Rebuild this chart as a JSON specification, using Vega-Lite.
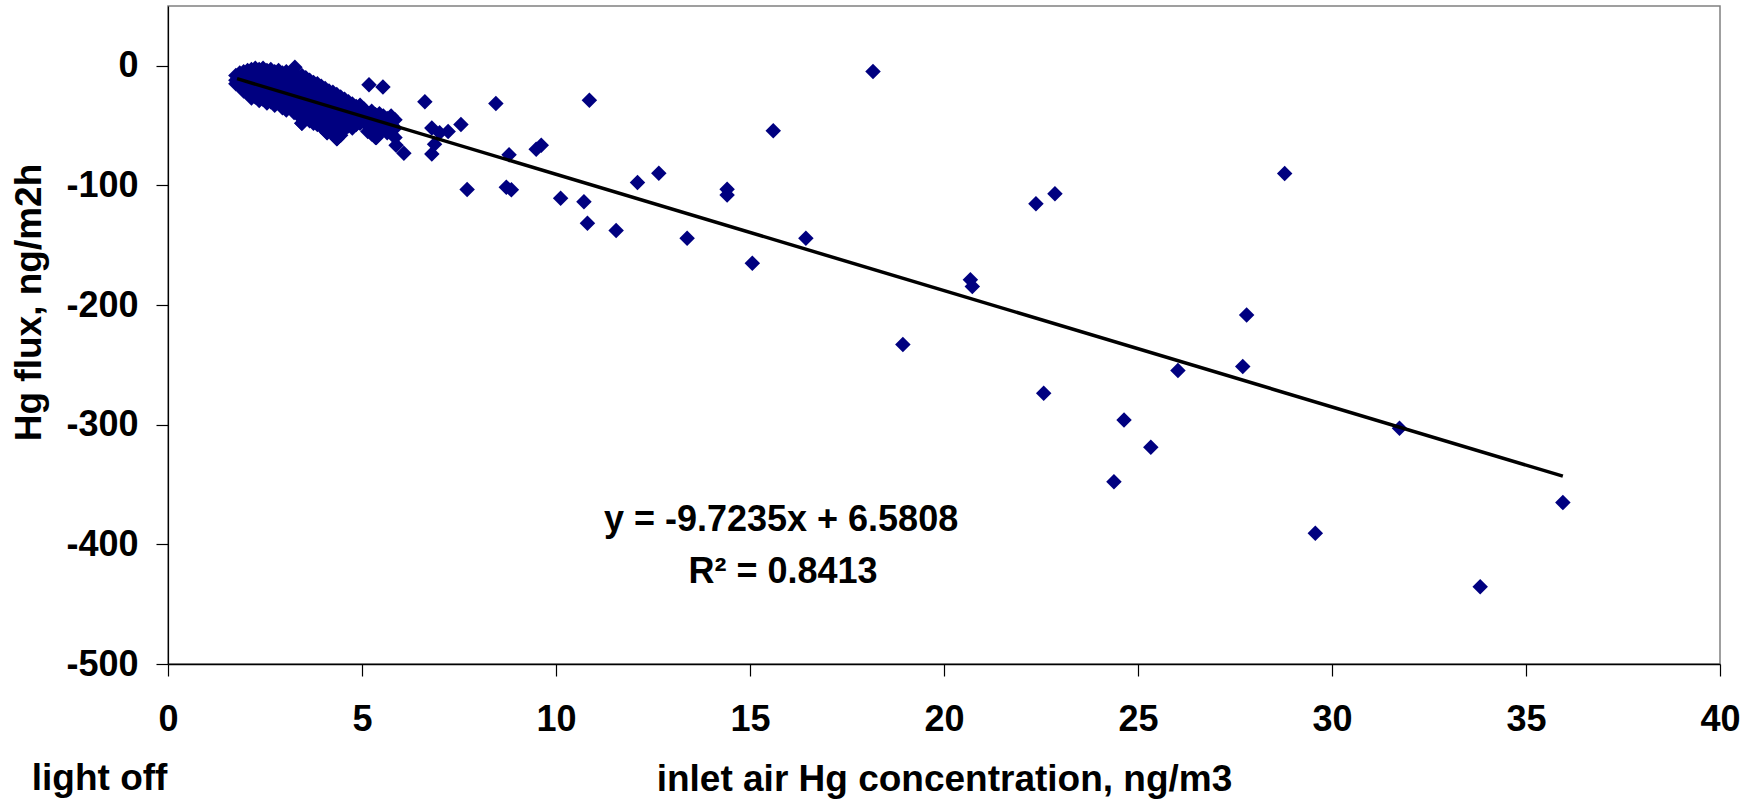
{
  "$schema": "https://vega.github.io/schema/vega-lite/v6.json",
  "width": 1552,
  "height": 658,
  "autosize": {"type": "none"},
  "padding": {"left": 168, "top": 6, "right": 37, "bottom": 138},
  "background": "white",
  "config": {
    "view": {"stroke": "#808080", "strokeWidth": 1.5},
    "font": "Liberation Sans"
  },
  "datasets": {
    "pts": [
      {"conc": 1.75, "flux": -8}, {"conc": 1.75, "flux": -12}, {"conc": 1.75, "flux": -15},
      {"conc": 1.85, "flux": -6}, {"conc": 1.85, "flux": -10}, {"conc": 1.85, "flux": -14}, {"conc": 1.85, "flux": -17},
      {"conc": 1.95, "flux": -5}, {"conc": 1.95, "flux": -9}, {"conc": 1.95, "flux": -13}, {"conc": 1.95, "flux": -18}, {"conc": 1.95, "flux": -21},
      {"conc": 2.05, "flux": -4}, {"conc": 2.05, "flux": -8}, {"conc": 2.05, "flux": -12}, {"conc": 2.05, "flux": -16}, {"conc": 2.05, "flux": -20}, {"conc": 2.05, "flux": -23},
      {"conc": 2.15, "flux": -3}, {"conc": 2.15, "flux": -7}, {"conc": 2.15, "flux": -11}, {"conc": 2.15, "flux": -15}, {"conc": 2.15, "flux": -19}, {"conc": 2.15, "flux": -24}, {"conc": 2.15, "flux": -27},
      {"conc": 2.25, "flux": -2}, {"conc": 2.25, "flux": -6}, {"conc": 2.25, "flux": -10}, {"conc": 2.25, "flux": -14}, {"conc": 2.25, "flux": -18}, {"conc": 2.25, "flux": -22}, {"conc": 2.25, "flux": -26},
      {"conc": 2.35, "flux": -3}, {"conc": 2.35, "flux": -8}, {"conc": 2.35, "flux": -12}, {"conc": 2.35, "flux": -17}, {"conc": 2.35, "flux": -21}, {"conc": 2.35, "flux": -25}, {"conc": 2.35, "flux": -29},
      {"conc": 2.45, "flux": -2}, {"conc": 2.45, "flux": -6}, {"conc": 2.45, "flux": -11}, {"conc": 2.45, "flux": -15}, {"conc": 2.45, "flux": -20}, {"conc": 2.45, "flux": -24}, {"conc": 2.45, "flux": -28},
      {"conc": 2.55, "flux": -4}, {"conc": 2.55, "flux": -9}, {"conc": 2.55, "flux": -13}, {"conc": 2.55, "flux": -18}, {"conc": 2.55, "flux": -22}, {"conc": 2.55, "flux": -27}, {"conc": 2.55, "flux": -31},
      {"conc": 2.65, "flux": -3}, {"conc": 2.65, "flux": -7}, {"conc": 2.65, "flux": -12}, {"conc": 2.65, "flux": -16}, {"conc": 2.65, "flux": -21}, {"conc": 2.65, "flux": -26}, {"conc": 2.65, "flux": -30},
      {"conc": 2.75, "flux": -5}, {"conc": 2.75, "flux": -10}, {"conc": 2.75, "flux": -15}, {"conc": 2.75, "flux": -19}, {"conc": 2.75, "flux": -24}, {"conc": 2.75, "flux": -28}, {"conc": 2.75, "flux": -33},
      {"conc": 2.85, "flux": -4}, {"conc": 2.85, "flux": -9}, {"conc": 2.85, "flux": -13}, {"conc": 2.85, "flux": -18}, {"conc": 2.85, "flux": -23}, {"conc": 2.85, "flux": -27}, {"conc": 2.85, "flux": -31},
      {"conc": 2.95, "flux": -6}, {"conc": 2.95, "flux": -11}, {"conc": 2.95, "flux": -16}, {"conc": 2.95, "flux": -20}, {"conc": 2.95, "flux": -25}, {"conc": 2.95, "flux": -30}, {"conc": 2.95, "flux": -35},
      {"conc": 3.05, "flux": -5}, {"conc": 3.05, "flux": -10}, {"conc": 3.05, "flux": -14}, {"conc": 3.05, "flux": -19}, {"conc": 3.05, "flux": -24}, {"conc": 3.05, "flux": -29}, {"conc": 3.05, "flux": -33}, {"conc": 3.05, "flux": -37},
      {"conc": 3.15, "flux": -7}, {"conc": 3.15, "flux": -12}, {"conc": 3.15, "flux": -17}, {"conc": 3.15, "flux": -21}, {"conc": 3.15, "flux": -26}, {"conc": 3.15, "flux": -31}, {"conc": 3.15, "flux": -35},
      {"conc": 3.25, "flux": -6}, {"conc": 3.25, "flux": -11}, {"conc": 3.25, "flux": -16}, {"conc": 3.25, "flux": -20}, {"conc": 3.25, "flux": -25}, {"conc": 3.25, "flux": -30}, {"conc": 3.25, "flux": -34}, {"conc": 3.25, "flux": -39},
      {"conc": 3.35, "flux": -9}, {"conc": 3.35, "flux": -14}, {"conc": 3.35, "flux": -19}, {"conc": 3.35, "flux": -23}, {"conc": 3.35, "flux": -28}, {"conc": 3.35, "flux": -33}, {"conc": 3.35, "flux": -37}, {"conc": 3.35, "flux": -41},
      {"conc": 3.45, "flux": -8}, {"conc": 3.45, "flux": -13}, {"conc": 3.45, "flux": -17}, {"conc": 3.45, "flux": -22}, {"conc": 3.45, "flux": -27}, {"conc": 3.45, "flux": -32}, {"conc": 3.45, "flux": -36}, {"conc": 3.45, "flux": -43}, {"conc": 3.45, "flux": -48},
      {"conc": 3.55, "flux": -10}, {"conc": 3.55, "flux": -15}, {"conc": 3.55, "flux": -20}, {"conc": 3.55, "flux": -25}, {"conc": 3.55, "flux": -30}, {"conc": 3.55, "flux": -34}, {"conc": 3.55, "flux": -39}, {"conc": 3.55, "flux": -44},
      {"conc": 3.65, "flux": -12}, {"conc": 3.65, "flux": -16}, {"conc": 3.65, "flux": -21}, {"conc": 3.65, "flux": -26}, {"conc": 3.65, "flux": -31}, {"conc": 3.65, "flux": -36}, {"conc": 3.65, "flux": -41}, {"conc": 3.65, "flux": -46},
      {"conc": 3.75, "flux": -14}, {"conc": 3.75, "flux": -19}, {"conc": 3.75, "flux": -24}, {"conc": 3.75, "flux": -28}, {"conc": 3.75, "flux": -33}, {"conc": 3.75, "flux": -38}, {"conc": 3.75, "flux": -42}, {"conc": 3.75, "flux": -48},
      {"conc": 3.85, "flux": -15}, {"conc": 3.85, "flux": -20}, {"conc": 3.85, "flux": -25}, {"conc": 3.85, "flux": -30}, {"conc": 3.85, "flux": -35}, {"conc": 3.85, "flux": -39}, {"conc": 3.85, "flux": -44}, {"conc": 3.85, "flux": -49},
      {"conc": 3.95, "flux": -17}, {"conc": 3.95, "flux": -22}, {"conc": 3.95, "flux": -27}, {"conc": 3.95, "flux": -31}, {"conc": 3.95, "flux": -36}, {"conc": 3.95, "flux": -41}, {"conc": 3.95, "flux": -46}, {"conc": 3.95, "flux": -51},
      {"conc": 4.05, "flux": -19}, {"conc": 4.05, "flux": -24}, {"conc": 4.05, "flux": -29}, {"conc": 4.05, "flux": -33}, {"conc": 4.05, "flux": -38}, {"conc": 4.05, "flux": -43}, {"conc": 4.05, "flux": -48}, {"conc": 4.05, "flux": -53},
      {"conc": 4.1, "flux": -56},
      {"conc": 4.15, "flux": -21}, {"conc": 4.15, "flux": -26}, {"conc": 4.15, "flux": -30}, {"conc": 4.15, "flux": -35}, {"conc": 4.15, "flux": -40}, {"conc": 4.15, "flux": -45}, {"conc": 4.15, "flux": -50},
      {"conc": 4.25, "flux": -22}, {"conc": 4.25, "flux": -27}, {"conc": 4.25, "flux": -32}, {"conc": 4.25, "flux": -37}, {"conc": 4.25, "flux": -42}, {"conc": 4.25, "flux": -47}, {"conc": 4.25, "flux": -52}, {"conc": 4.25, "flux": -57},
      {"conc": 4.35, "flux": -24}, {"conc": 4.35, "flux": -29}, {"conc": 4.35, "flux": -34}, {"conc": 4.35, "flux": -39}, {"conc": 4.35, "flux": -44}, {"conc": 4.35, "flux": -49}, {"conc": 4.35, "flux": -54}, {"conc": 4.35, "flux": -61},
      {"conc": 4.45, "flux": -26}, {"conc": 4.45, "flux": -31}, {"conc": 4.45, "flux": -36}, {"conc": 4.45, "flux": -41}, {"conc": 4.45, "flux": -46}, {"conc": 4.45, "flux": -51}, {"conc": 4.45, "flux": -58},
      {"conc": 4.55, "flux": -28}, {"conc": 4.55, "flux": -33}, {"conc": 4.55, "flux": -38}, {"conc": 4.55, "flux": -43}, {"conc": 4.55, "flux": -48}, {"conc": 4.55, "flux": -53},
      {"conc": 4.65, "flux": -30}, {"conc": 4.65, "flux": -35}, {"conc": 4.65, "flux": -40}, {"conc": 4.65, "flux": -45}, {"conc": 4.65, "flux": -50},
      {"conc": 4.75, "flux": -32}, {"conc": 4.75, "flux": -37}, {"conc": 4.75, "flux": -42}, {"conc": 4.75, "flux": -47}, {"conc": 4.75, "flux": -52},
      {"conc": 4.85, "flux": -34}, {"conc": 4.85, "flux": -39}, {"conc": 4.85, "flux": -44}, {"conc": 4.85, "flux": -49},
      {"conc": 4.95, "flux": -33}, {"conc": 4.95, "flux": -38}, {"conc": 4.95, "flux": -43}, {"conc": 4.95, "flux": -48},
      {"conc": 5.05, "flux": -36}, {"conc": 5.05, "flux": -41}, {"conc": 5.05, "flux": -46},
      {"conc": 5.15, "flux": -40}, {"conc": 5.15, "flux": -45}, {"conc": 5.15, "flux": -50}, {"conc": 5.15, "flux": -55},
      {"conc": 5.25, "flux": -38}, {"conc": 5.25, "flux": -43}, {"conc": 5.25, "flux": -52}, {"conc": 5.25, "flux": -57},
      {"conc": 5.35, "flux": -41}, {"conc": 5.35, "flux": -47}, {"conc": 5.35, "flux": -55}, {"conc": 5.35, "flux": -60},
      {"conc": 5.45, "flux": -40}, {"conc": 5.45, "flux": -45}, {"conc": 5.45, "flux": -50}, {"conc": 5.45, "flux": -56},
      {"conc": 5.55, "flux": -42}, {"conc": 5.55, "flux": -48}, {"conc": 5.55, "flux": -53},
      {"conc": 5.65, "flux": -44}, {"conc": 5.65, "flux": -50}, {"conc": 5.65, "flux": -56},
      {"conc": 5.75, "flux": -42}, {"conc": 5.75, "flux": -47}, {"conc": 5.75, "flux": -54},
      {"conc": 5.85, "flux": -45}, {"conc": 5.85, "flux": -52}, {"conc": 5.85, "flux": -60},
      {"conc": 3.27, "flux": -1.1}, {"conc": 5.18, "flux": -15.8}, {"conc": 5.54, "flux": -17.7},
      {"conc": 6.62, "flux": -30}, {"conc": 8.45, "flux": -31.5}, {"conc": 7.55, "flux": -49},
      {"conc": 6.8, "flux": -52}, {"conc": 7.22, "flux": -55}, {"conc": 7.0, "flux": -56},
      {"conc": 6.87, "flux": -65.5}, {"conc": 6.8, "flux": -73.8}, {"conc": 5.88, "flux": -66.3},
      {"conc": 6.08, "flux": -73}, {"conc": 8.79, "flux": -74.4}, {"conc": 9.49, "flux": -69.7},
      {"conc": 9.62, "flux": -66.3}, {"conc": 7.71, "flux": -103.4}, {"conc": 8.72, "flux": -101.4},
      {"conc": 8.85, "flux": -103.6}, {"conc": 10.12, "flux": -110.6}, {"conc": 10.72, "flux": -113.7},
      {"conc": 10.81, "flux": -131.5}, {"conc": 10.86, "flux": -28.7}, {"conc": 11.55, "flux": -137.7},
      {"conc": 12.1, "flux": -97.6}, {"conc": 12.65, "flux": -89.7}, {"conc": 13.38, "flux": -144.1},
      {"conc": 14.41, "flux": -103.1}, {"conc": 14.41, "flux": -107.9}, {"conc": 15.06, "flux": -165},
      {"conc": 15.6, "flux": -54.3}, {"conc": 16.44, "flux": -144.1}, {"conc": 18.17, "flux": -4.7},
      {"conc": 18.94, "flux": -233}, {"conc": 20.68, "flux": -178.9}, {"conc": 20.73, "flux": -184.5},
      {"conc": 22.37, "flux": -115.2}, {"conc": 22.86, "flux": -107}, {"conc": 22.57, "flux": -273.7},
      {"conc": 24.38, "flux": -347.6}, {"conc": 24.64, "flux": -296}, {"conc": 25.33, "flux": -318.8},
      {"conc": 26.03, "flux": -254.7}, {"conc": 27.7, "flux": -251.4}, {"conc": 27.8, "flux": -208.2},
      {"conc": 28.78, "flux": -90}, {"conc": 29.57, "flux": -390.7}, {"conc": 31.74, "flux": -302.9},
      {"conc": 33.82, "flux": -435.4}, {"conc": 35.95, "flux": -365.1},
      {"conc": 4.1, "flux": -55.8}, {"conc": 4.36, "flux": -60.8}, {"conc": 3.45, "flux": -48},
      {"conc": 5.24, "flux": -55.8}, {"conc": 5.37, "flux": -60}
    ],
    "trend": [
      {"conc": 1.78, "flux": -10.73},
      {"conc": 35.95, "flux": -342.98}
    ],
    "one": [{}]
  },
  "layer": [
    {
      "data": {"name": "pts"},
      "mark": {"type": "point", "shape": "diamond", "filled": true, "size": 240, "color": "#000080", "opacity": 1, "strokeWidth": 0},
      "encoding": {
        "x": {
          "field": "conc", "type": "quantitative",
          "scale": {"domain": [0, 40], "nice": false, "zero": false},
          "axis": {
            "values": [0, 5, 10, 15, 20, 25, 30, 35, 40],
            "labelExpr": "'' + datum.value",
            "grid": false,
            "tickSize": 12, "tickColor": "#000", "tickWidth": 1.2,
            "domainColor": "#000", "domainWidth": 1.5,
            "labelFont": "Liberation Sans", "labelFontSize": 36, "labelFontWeight": "bold", "labelColor": "#000",
            "labelPadding": 26, "labelOverlap": false, "labelFlush": false,
            "title": "inlet air Hg concentration, ng/m3",
            "titleFont": "Liberation Sans", "titleFontSize": 37, "titleFontWeight": "bold", "titleColor": "#000",
            "titleX": 776, "titleY": 126, "titleAlign": "center", "titleBaseline": "alphabetic"
          }
        },
        "y": {
          "field": "flux", "type": "quantitative",
          "scale": {"domain": [-500, 50], "nice": false, "zero": false},
          "axis": {
            "values": [-500, -400, -300, -200, -100, 0],
            "labelExpr": "'' + datum.value",
            "grid": false,
            "tickSize": 12, "tickColor": "#000", "tickWidth": 1.2,
            "domainColor": "#000", "domainWidth": 1.2,
            "labelFont": "Liberation Sans", "labelFontSize": 36, "labelFontWeight": "bold", "labelColor": "#000",
            "labelPadding": 18, "labelOverlap": false, "labelFlush": false,
            "title": "Hg flux, ng/m2h",
            "titleFont": "Liberation Sans", "titleFontSize": 37, "titleFontWeight": "bold", "titleColor": "#000",
            "titleAngle": -90, "titleX": -128, "titleY": 296, "titleAlign": "center", "titleBaseline": "alphabetic"
          }
        }
      }
    },
    {
      "data": {"name": "trend"},
      "mark": {"type": "line", "color": "#000", "strokeWidth": 3.5},
      "encoding": {
        "x": {"field": "conc", "type": "quantitative"},
        "y": {"field": "flux", "type": "quantitative"}
      }
    },
    {
      "data": {"name": "one"},
      "mark": {"type": "text", "text": "y = -9.7235x + 6.5808", "font": "Liberation Sans", "fontSize": 36, "fontWeight": "bold", "color": "#000", "align": "center", "baseline": "alphabetic"},
      "encoding": {
        "x": {"datum": 15.8, "type": "quantitative"},
        "y": {"datum": -389, "type": "quantitative"}
      }
    },
    {
      "data": {"name": "one"},
      "mark": {"type": "text", "text": "R² = 0.8413", "font": "Liberation Sans", "fontSize": 36, "fontWeight": "bold", "color": "#000", "align": "center", "baseline": "alphabetic"},
      "encoding": {
        "x": {"datum": 15.85, "type": "quantitative"},
        "y": {"datum": -432.5, "type": "quantitative"}
      }
    },
    {
      "data": {"name": "one"},
      "mark": {"type": "text", "text": "light off", "font": "Liberation Sans", "fontSize": 37, "fontWeight": "bold", "color": "#000", "align": "left", "baseline": "alphabetic", "clip": false},
      "encoding": {
        "x": {"datum": -3.51, "type": "quantitative"},
        "y": {"datum": -605.5, "type": "quantitative"}
      }
    }
  ]
}
